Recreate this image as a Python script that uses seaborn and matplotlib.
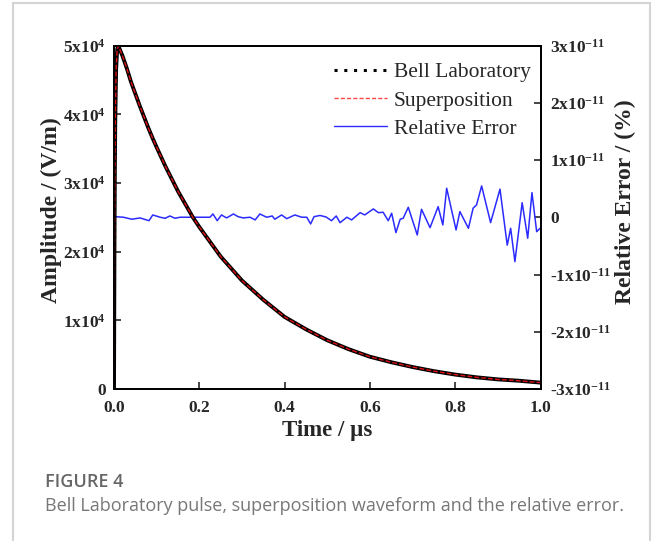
import numpy as np
import pandas as pd
import seaborn as sns
import matplotlib
matplotlib.use("Agg")
import matplotlib.pyplot as plt
from matplotlib.lines import Line2D
from matplotlib.patches import Rectangle

# ---------------- data ----------------
time_us = [0.000, 0.001, 0.002, 0.003, 0.005, 0.0075, 0.010, 0.020, 0.030,
           0.040, 0.050, 0.060, 0.070, 0.080, 0.090, 0.100, 0.120, 0.150,
           0.185, 0.200, 0.250, 0.300, 0.350, 0.400, 0.450, 0.500, 0.550,
           0.600, 0.650, 0.700, 0.750, 0.800, 0.850, 0.900, 0.950, 1.000]
bell_amp = [0, 19700, 31800, 39300, 46600, 49500, 50000, 48500, 46700,
            44700, 43000, 41300, 39700, 38100, 36600, 35200, 32500, 28800,
            25000, 23600, 19300, 15800, 13000, 10500, 8700, 7100, 5800,
            4700, 3900, 3200, 2600, 2100, 1700, 1400, 1200, 930]
super_amp = list(bell_amp)

err_time = [0.002, 0.022, 0.042, 0.061, 0.082, 0.091, 0.108, 0.120, 0.131,
            0.143, 0.155, 0.190, 0.225, 0.232, 0.242, 0.252, 0.264, 0.280,
            0.291, 0.303, 0.319, 0.331, 0.342, 0.358, 0.371, 0.377, 0.393,
            0.405, 0.424, 0.440, 0.452, 0.461, 0.469, 0.483, 0.497, 0.510,
            0.521, 0.530, 0.546, 0.557, 0.577, 0.588, 0.608, 0.620, 0.631,
            0.643, 0.651, 0.661, 0.671, 0.678, 0.690, 0.711, 0.721, 0.741,
            0.760, 0.771, 0.780, 0.802, 0.811, 0.831, 0.842, 0.850, 0.862,
            0.883, 0.905, 0.922, 0.930, 0.940, 0.957, 0.970, 0.980, 0.991,
            0.999]
# relative error in units of 1e-11 %
rel_err = [0.012, 0.002, -0.033, -0.010, -0.058, 0.042, 0.002, -0.016, 0.024,
           -0.016, 0.002, 0.002, 0.002, 0.059, -0.058, 0.042, -0.010, 0.059,
           0.012, -0.010, 0.002, -0.045, 0.059, 0.002, 0.024, -0.033, 0.042,
           -0.023, 0.042, 0.002, 0.002, -0.115, 0.012, 0.033, 0.007, -0.058,
           0.024, -0.093, 0.002, -0.045, 0.082, 0.042, 0.147, 0.082, 0.089,
           -0.058, 0.072, -0.267, -0.033, -0.016, 0.176, -0.308, 0.141, -0.180,
           0.187, -0.133, 0.509, -0.220, 0.100, -0.191, 0.160, 0.217, 0.549,
           -0.092, 0.493, -0.486, -0.191, -0.774, 0.256, -0.365, 0.432, -0.250,
           -0.191]

left_ticks = [0, 10000, 20000, 30000, 40000, 50000]
left_labels = ["0", "1x10$^{4}$", "2x10$^{4}$", "3x10$^{4}$", "4x10$^{4}$", "5x10$^{4}$"]
right_ticks = [-3, -2, -1, 0, 1, 2, 3]
right_labels = ["-3x10$^{-11}$", "-2x10$^{-11}$", "-1x10$^{-11}$", "0",
                "1x10$^{-11}$", "2x10$^{-11}$", "3x10$^{-11}$"]
x_ticks = [0.0, 0.2, 0.4, 0.6, 0.8, 1.0]
x_labels = ["0.0", "0.2", "0.4", "0.6", "0.8", "1.0"]

# ---------------- style ----------------
sns.set_style("ticks")
plt.rcParams["font.family"] = ["Liberation Serif", "DejaVu Serif"]
plt.rcParams["mathtext.fontset"] = "custom"
plt.rcParams["mathtext.rm"] = "Liberation Serif:bold"
plt.rcParams["mathtext.bf"] = "Liberation Serif:bold"
plt.rcParams["mathtext.it"] = "Liberation Serif:bold"
plt.rcParams["mathtext.default"] = "bf"

W, H = 656, 541
fig = plt.figure(figsize=(W / 100, H / 100), dpi=100)
fig.patch.set_facecolor("white")

x0, x1 = 114, 540.5
y_top, y_bot = 45.7, 389
ax = fig.add_axes([x0 / W, 1 - y_bot / H, (x1 - x0) / W, (y_bot - y_top) / H])
ax2 = ax.twinx()

df_main = pd.DataFrame({"t": time_us, "bell": bell_amp, "sup": super_amp})
df_err = pd.DataFrame({"t": err_time, "err": rel_err})

sns.lineplot(data=df_err, x="t", y="err", ax=ax2, color="#2b2bff", lw=1.1,
             sort=False, legend=False)
sns.lineplot(data=df_main, x="t", y="bell", ax=ax, color="black", lw=2.8,
             sort=False, legend=False)
sns.lineplot(data=df_main, x="t", y="sup", ax=ax, color="#e01010", lw=1.0,
             sort=False, legend=False, dashes=False)
ax.lines[-1].set_linestyle((0, (3.5, 1.5)))
for ln in ax.lines + ax2.lines:
    ln.set_solid_joinstyle("round")

ax.set_zorder(ax2.get_zorder() + 1)
ax.patch.set_visible(False)

ax.set_xlim(0, 1.0)
ax.set_ylim(0, 50000)
ax2.set_ylim(-3, 3)

ax.set_xticks(x_ticks)
ax.set_xticklabels(x_labels)
ax.set_yticks(left_ticks)
ax.set_yticklabels(left_labels)
ax2.set_yticks(right_ticks)
ax2.set_yticklabels(right_labels)

for a in (ax, ax2):
    for s in a.spines.values():
        s.set_visible(True)
        s.set_linewidth(1.3)
        s.set_color("black")
ax.tick_params(axis="x", direction="in", length=5, width=1.2,
               labelsize=12.5, pad=8, top=False)
ax.tick_params(axis="y", direction="in", length=5, width=1.2,
               labelsize=12.5, pad=6, right=False)
ax2.tick_params(axis="y", direction="in", length=5, width=1.2,
                labelsize=12.5, pad=7)
for lab in ax.get_xticklabels() + ax.get_yticklabels() + ax2.get_yticklabels():
    lab.set_fontweight("bold")

ax.set_xlabel("Time / µs", fontsize=16.5, fontweight="bold", labelpad=3)
ax.set_ylabel("Amplitude / (V/m)", fontsize=17, fontweight="bold")
ax2.set_ylabel("Relative Error / (%)", fontsize=17, fontweight="bold")
ax.yaxis.set_label_coords(-0.122, 0.521)
ax2.yaxis.set_label_coords(1.174, 0.546)

handles = [
    Line2D([], [], color="black", lw=2.2, linestyle=(0, (1, 2.2))),
    Line2D([], [], color="#ff4444", lw=1.0, linestyle=(0, (3, 1.5))),
    Line2D([], [], color="#2b2bff", lw=1.0),
]
ax.legend(handles, ["Bell Laboratory", "Superposition", "Relative Error"],
          loc="upper right", bbox_to_anchor=(1.0, 0.98), frameon=False,
          fontsize=15.5, handlelength=2.5, handletextpad=0.3,
          labelspacing=0.38, borderaxespad=0.05)

# caption
fig.text(45 / W, 1 - 482 / H, "FIGURE 4", fontsize=13, color="#666666",
         family=["Open Sans", "DejaVu Sans"], fontweight="semibold", va="center")
fig.text(45 / W, 1 - 506 / H,
         "Bell Laboratory pulse, superposition waveform and the relative error.",
         fontsize=13, color="#777777", family=["Open Sans", "DejaVu Sans"],
         va="center")

# outer light frame
fig.patches.append(Rectangle((12.5 / W, -0.05), (650 - 12.5) / W, 1.05 - 3.5 / H,
                             transform=fig.transFigure, fill=False,
                             edgecolor="#d4d4d4", lw=1.5))

fig.savefig("out.png", dpi=100)
